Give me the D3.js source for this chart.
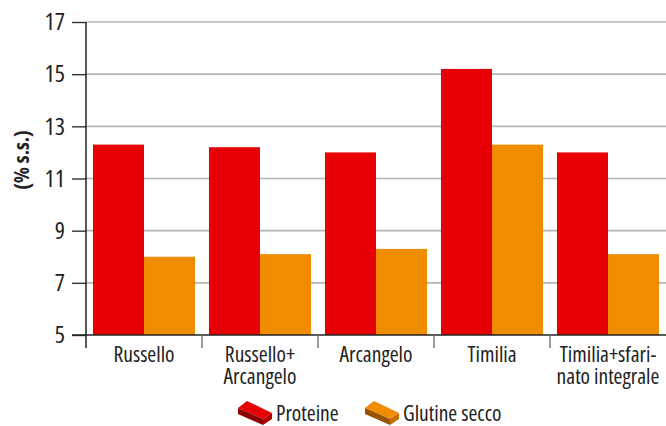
<!DOCTYPE html>
<html>
<head>
<meta charset="utf-8">
<script src="https://cdn.jsdelivr.net/npm/d3@7"></script>
<style>
  html, body { margin: 0; padding: 0; background: #fff; }
  svg { display: block; font-family: "Open Sans", sans-serif; font-stretch: condensed; }
</style>
</head>
<body>
<svg id="chart" width="666" height="426"></svg>
<script>
// Protein and dry gluten content by variety / blend
const categories = [["Russello"], ["Russello+", "Arcangelo"], ["Arcangelo"], ["Timilia"], ["Timilia+sfari-", "nato integrale"]];
const proteine = [12.3, 12.2, 12.0, 15.2, 12.0];
const glutine = [8.0, 8.1, 8.3, 12.3, 8.1];
const seriesNames = ["Proteine", "Glutine secco"];
const yTicks = [5, 7, 9, 11, 13, 15, 17];
const yLabel = "(% s.s.)";

const colors = {
  Proteine: { top: "#e60005", front: "#8c0000", side: "#b30000" },
  "Glutine secco": { top: "#f08c00", front: "#9a5400", side: "#c46e00" }
};

const svg = d3.select("#chart");
const plotLeft = 86, plotRight = 666, plotTop = 22, plotBottom = 335;

const keys = categories.map(c => c.join(" "));
const x = d3.scaleBand().domain(keys).range([plotLeft, plotRight]).paddingInner(0.12).paddingOuter(0.06);
const xs = d3.scaleBand().domain(seriesNames).range([0, x.bandwidth()]);
const y = d3.scaleLinear().domain([5, 17]).range([plotBottom, plotTop]);

// horizontal grid
svg.append("g").selectAll("line").data(yTicks.slice(1)).join("line")
  .attr("x1", plotLeft).attr("x2", plotRight)
  .attr("y1", d => y(d)).attr("y2", d => y(d))
  .attr("stroke", "#b5b5b5").attr("stroke-width", 1.6);

// bars
const data = keys.map((k, i) => ({ key: k, values: [proteine[i], glutine[i]] }));
const groups = svg.append("g").selectAll("g").data(data).join("g")
  .attr("transform", d => `translate(${x(d.key)},0)`);
groups.selectAll("rect").data(d => d.values.map((v, j) => ({ name: seriesNames[j], v }))).join("rect")
  .attr("x", d => xs(d.name))
  .attr("width", xs.bandwidth())
  .attr("y", d => y(d.v))
  .attr("height", d => y(5) - y(d.v))
  .attr("fill", d => colors[d.name].top);

// y axis
const yAxis = d3.axisLeft(y).tickValues(yTicks).tickSize(14).tickPadding(7).tickFormat(d3.format("d"));
const gy = svg.append("g").attr("transform", `translate(${plotLeft},0)`).call(yAxis)
  .attr("font-family", null).attr("font-size", null);
gy.select(".domain").remove();
gy.selectAll(".tick line").attr("stroke", "#333").attr("stroke-width", 1.4);
gy.selectAll(".tick text").attr("font-size", 24).attr("fill", "#222");
gy.append("line").attr("x1", 0).attr("x2", 0).attr("y1", plotTop).attr("y2", plotBottom + 13)
  .attr("stroke", "#222").attr("stroke-width", 1.5);

// x baseline and category separators
svg.append("line").attr("x1", plotLeft - 14).attr("x2", plotRight).attr("y1", plotBottom).attr("y2", plotBottom)
  .attr("stroke", "#222").attr("stroke-width", 1.5);
const step = x.step();
svg.append("g").selectAll("line").data(keys.slice(1)).join("line")
  .attr("x1", d => x(d) - step * x.paddingInner() / 2)
  .attr("x2", d => x(d) - step * x.paddingInner() / 2)
  .attr("y1", plotBottom).attr("y2", plotBottom + 13)
  .attr("stroke", "#777").attr("stroke-width", 1.4);

// category labels
const labels = svg.append("g").selectAll("text").data(categories).join("text")
  .attr("x", (d, i) => x(keys[i]) + x.bandwidth() / 2)
  .attr("y", 362)
  .attr("text-anchor", "middle")
  .attr("font-size", 21.5)
  .attr("fill", "#222");
labels.selectAll("tspan").data(d => d).join("tspan")
  .attr("x", function () { return this.parentNode.getAttribute("x"); })
  .attr("dy", (d, i) => i === 0 ? 0 : 22)
  .text(d => d);

// y label
svg.append("text")
  .attr("transform", "translate(29,160) rotate(-90)")
  .attr("text-anchor", "middle")
  .attr("font-size", 21).attr("font-weight", "bold").attr("fill", "#222")
  .text(yLabel);

// legend with brick icons
function brick(g, c) {
  g.append("polygon").attr("points", "0,8 9,1 34,13 25,19").attr("fill", c.top);
  g.append("polygon").attr("points", "0,8 25,19 25,25 0,14").attr("fill", c.front);
  g.append("polygon").attr("points", "25,19 34,13 34,19 25,25").attr("fill", c.side);
}
const legendX = [238, 365];
seriesNames.forEach((name, i) => {
  const g = svg.append("g").attr("transform", `translate(${legendX[i]},400)`);
  brick(g, colors[name]);
  g.append("text").attr("x", 38).attr("y", 21)
    .attr("font-size", 21.5).attr("fill", "#222").text(name);
});
</script>
</body>
</html>
